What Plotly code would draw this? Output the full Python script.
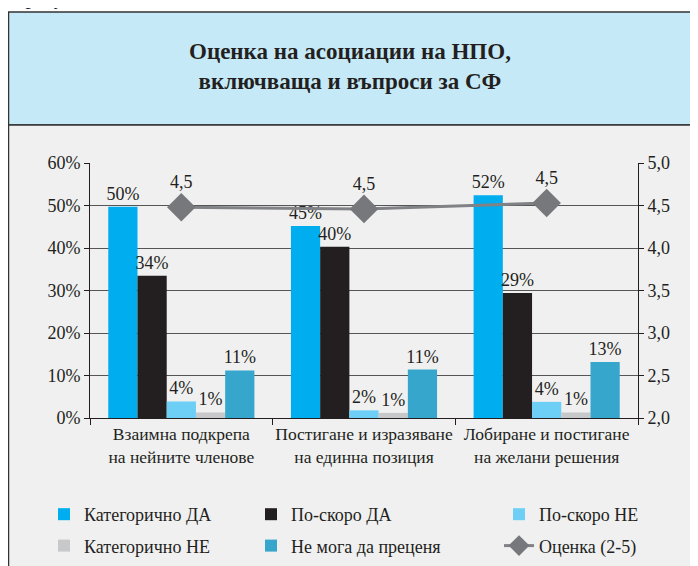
import plotly.graph_objects as go

# data
categories = ["Взаимна подкрепа<br>на нейните членове",
              "Постигане и изразяване<br>на единна позиция",
              "Лобиране и постигане<br>на желани решения"]
kat_da = [49.7, 45.2, 52.4]
po_skoro_da = [33.5, 40.3, 29.4]
po_skoro_ne = [3.9, 1.8, 3.8]
kat_ne = [1.3, 1.2, 1.3]
ne_moga = [11.2, 11.4, 13.2]
ocenka = [4.48, 4.46, 4.53]

# name, values, colour, legend block
series = [
    ("Категорично ДА", kat_da, "#00adef", "legend"),
    ("По-скоро ДА", po_skoro_da, "#231f20", "legend2"),
    ("По-скоро НЕ", po_skoro_ne, "#6dcff6", "legend3"),
    ("Категорично НЕ", kat_ne, "#c7c8ca", "legend"),
    ("Не мога да преценя", ne_moga, "#36a6cc", "legend2"),
]

FONT = "Liberation Serif"
# page body has an 8px margin, so the figure is a bit smaller than the window
W, H = 690, 558
L, R, T, B = 82, 60, 155, 148
pw, ph = W - L - R, H - T - B


def px_x(p):
    # p is a figure pixel
    return (p - L) / pw


def px_y(p):
    return (H - B - p) / ph


fig = go.Figure()

for name, vals, color, leg in series:
    fig.add_trace(go.Bar(
        x=categories, y=vals, name=name, legend=leg, legendgroup=name,
        marker=dict(color=color, line=dict(width=0)),
        text=vals, texttemplate="%{y:.0f}%", textposition="outside",
        constraintext="none",
        textfont=dict(family=FONT, size=18, color="#231f20"),
        cliponaxis=False,
    ))

fig.add_trace(go.Scatter(
    x=categories, y=ocenka, name="Оценка (2-5)", yaxis="y2",
    legend="legend3", legendgroup="ocenka",
    mode="lines+markers+text",
    line=dict(color="#808285", width=3),
    marker=dict(symbol="diamond", size=22, color="#77787b"),
    text=ocenka, texttemplate="%{y:.1f}", textposition="top center",
    textfont=dict(family=FONT, size=18, color="#231f20"),
    cliponaxis=False,
))

# background panels
shapes = [
    dict(type="rect", xref="paper", yref="paper",
         x0=px_x(0.5), x1=px_x(W + 10), y0=px_y(117), y1=px_y(4),
         fillcolor="#c6e9f8", line=dict(color="#333333", width=1.5), layer="below"),
    dict(type="rect", xref="paper", yref="paper",
         x0=px_x(0.5), x1=px_x(W + 10), y0=px_y(H + 10), y1=px_y(117),
         fillcolor="#f0f0f0", line=dict(color="#333333", width=1.5), layer="below"),
]

annotations = [
    dict(text="<b>Оценка на асоциации на НПО,<br>включваща и въпроси за СФ</b>",
         xref="paper", yref="paper", x=px_x(342), y=px_y(58),
         xanchor="center", yanchor="middle", showarrow=False,
         font=dict(family=FONT, size=23, color="#231f20")),
    dict(text="<i>Графика 16</i>", xref="paper", yref="paper",
         x=px_x(4), y=px_y(3), xanchor="left", yanchor="bottom",
         showarrow=False, font=dict(family=FONT, size=22, color="#231f20")),
]

leg_common = dict(orientation="v", xanchor="left", yanchor="top",
                  traceorder="grouped", tracegroupgap=5,
                  bgcolor="rgba(0,0,0,0)",
                  font=dict(family=FONT, size=18, color="#231f20"))

fig.update_layout(
    width=W, height=H,
    margin=dict(l=L, r=R, t=T, b=B, autoexpand=False),
    paper_bgcolor="white", plot_bgcolor="rgba(0,0,0,0)",
    separators=", ",
    barmode="group", bargap=0.2, bargroupgap=0,
    font=dict(family=FONT, size=17, color="#231f20"),
    shapes=shapes, annotations=annotations,
    xaxis=dict(showline=True, linecolor="#231f20", linewidth=1,
               ticks="outside", tickson="boundaries", ticklen=6,
               tickcolor="#231f20", tickfont=dict(size=17.5),
               tickangle=0, automargin=False),
    yaxis=dict(range=[0, 60], dtick=10, ticksuffix="%",
               showline=True, linecolor="#231f20", linewidth=1,
               ticks="outside", ticklen=5, tickcolor="#231f20",
               showgrid=True, gridcolor="#555555", gridwidth=1,
               zeroline=False, tickfont=dict(size=18), automargin=False),
    yaxis2=dict(range=[2, 5], dtick=0.5, tickformat=".1f",
                overlaying="y", side="right",
                showline=True, linecolor="#231f20", linewidth=1,
                ticks="outside", ticklen=5, tickcolor="#231f20",
                showgrid=False, zeroline=False, tickfont=dict(size=18),
                automargin=False),
    legend=dict(x=px_x(36), y=px_y(488), **leg_common),
    legend2=dict(x=px_x(243), y=px_y(488), **leg_common),
    legend3=dict(x=px_x(491), y=px_y(488), **leg_common),
)

fig.write_html("out.html")
